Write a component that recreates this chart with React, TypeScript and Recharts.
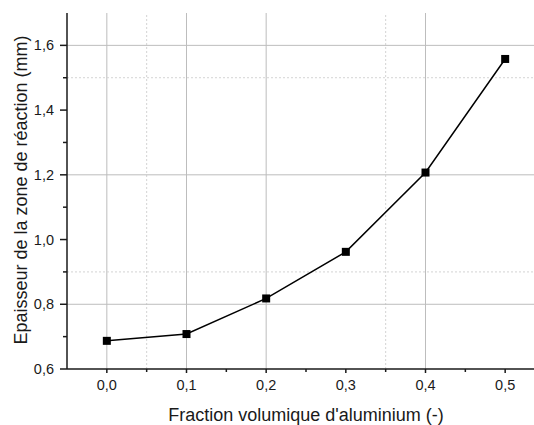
import { LineChart, Line, XAxis, YAxis, ReferenceLine } from "recharts";

// Fraction volumique d'aluminium vs épaisseur de la zone de réaction
const fractions = [0, 0.1, 0.2, 0.3, 0.4, 0.5];
const thickness = [0.687, 0.708, 0.818, 0.962, 1.207, 1.558];

const xTicks = [0, 0.05, 0.1, 0.15, 0.2, 0.25, 0.3, 0.35, 0.4, 0.45, 0.5];
const yTicks = [0.6, 0.7, 0.8, 0.9, 1.0, 1.1, 1.2, 1.3, 1.4, 1.5, 1.6];

// grid lines as they show in the reference
const xGridSolid = [0, 0.1, 0.2, 0.4];
const xGridDotted = [0.05, 0.35];
const yGridSolid = [0.8, 1.2, 1.6];
const yGridDotted = [0.9, 1.5];

const data = fractions.map((f, i) => ({ f, t: thickness[i] }));

const FONT = "'Liberation Sans', Arial, sans-serif";
const INK = "#1a1a1a";

const fmt = (v: number, d: number) => v.toFixed(d).replace(".", ",");
const isMajorX = (v: number) => Math.round(v * 100) % 10 === 0;
const isMajorY = (v: number) => Math.round(v * 10) % 2 === 0;

function BottomTick({ x, y, payload }: any) {
  const major = isMajorX(payload.value);
  return (
    <g>
      <line x1={x} x2={x} y1={y} y2={y + (major ? 4 : 3)} stroke={INK} strokeWidth={1.5} />
      {major && (
        <text x={x} y={y + 21} textAnchor="middle" fontSize={14.5} fill={INK} fontFamily={FONT}>
          {fmt(payload.value, 1)}
        </text>
      )}
    </g>
  );
}

function TopTick({ x, y, payload }: any) {
  const major = isMajorX(payload.value);
  return <line x1={x} x2={x} y1={y} y2={y + (major ? 6 : 4)} stroke={INK} strokeWidth={1.5} />;
}

function LeftTick({ x, y, payload }: any) {
  const major = isMajorY(payload.value);
  return (
    <g>
      <line x1={x - (major ? 7 : 4)} x2={x} y1={y} y2={y} stroke={INK} strokeWidth={1.5} />
      {major && (
        <text x={x - 13} y={y + 5} textAnchor="end" fontSize={14.5} fill={INK} fontFamily={FONT}>
          {fmt(payload.value, 1)}
        </text>
      )}
    </g>
  );
}

function SquareDot({ cx, cy, index }: any) {
  return <rect key={`sq${index}`} x={cx - 4} y={cy - 4} width={8} height={8} fill="#000" />;
}

export default function App() {
  return (
    <div
      style={{
        position: "fixed",
        left: 0,
        top: 0,
        width: 534,
        height: 425,
        overflow: "hidden",
        background: "#fff",
      }}
    >
      <LineChart
        width={560}
        height={425}
        data={data}
        margin={{ top: 13, right: 15, bottom: 0, left: 0 }}
        style={{ fontFamily: FONT }}
      >
        <XAxis
          dataKey="f"
          type="number"
          domain={[-0.05, 0.55]}
          allowDataOverflow
          ticks={xTicks}
          interval={0}
          height={56}
          tickSize={0}
          tickMargin={0}
          tickLine={false}
          tick={<BottomTick />}
          axisLine={{ stroke: INK, strokeWidth: 1.5 }}
          label={{
            value: "Fraction volumique d'aluminium (-)",
            position: "insideBottom",
            offset: 4,
            fontSize: 18,
            fill: INK,
          }}
        />
        <XAxis
          xAxisId="top"
          dataKey="f"
          type="number"
          orientation="top"
          mirror
          domain={[-0.05, 0.55]}
          allowDataOverflow
          ticks={xTicks}
          interval={0}
          height={0}
          tickSize={0}
          tickMargin={0}
          tickLine={false}
          tick={<TopTick />}
          axisLine={{ stroke: INK, strokeWidth: 1.5 }}
        />
        <YAxis
          type="number"
          domain={[0.6, 1.7]}
          allowDataOverflow
          ticks={yTicks}
          interval={0}
          width={67}
          tickSize={0}
          tickMargin={0}
          tickLine={false}
          tick={<LeftTick />}
          axisLine={{ stroke: INK, strokeWidth: 1.5 }}
          label={{
            value: "Epaisseur de la zone de réaction (mm)",
            angle: -90,
            position: "center",
            dx: -13,
            dy: -1,
            fontSize: 18,
            fill: INK,
          }}
        />
        {xGridSolid.map((v) => (
          <ReferenceLine key={`xs${v}`} x={v} stroke="#bdbdbd" strokeWidth={1} />
        ))}
        {xGridDotted.map((v) => (
          <ReferenceLine key={`xd${v}`} x={v} stroke="#d4d4d4" strokeDasharray="2 2" />
        ))}
        {yGridSolid.map((v) => (
          <ReferenceLine key={`ys${v}`} y={v} stroke="#bdbdbd" strokeWidth={1} />
        ))}
        {yGridDotted.map((v) => (
          <ReferenceLine key={`yd${v}`} y={v} stroke="#d4d4d4" strokeDasharray="2 2" />
        ))}
        <Line
          dataKey="t"
          type="linear"
          stroke="#000"
          strokeWidth={1.5}
          dot={<SquareDot />}
          activeDot={false}
          isAnimationActive={false}
        />
      </LineChart>
    </div>
  );
}
